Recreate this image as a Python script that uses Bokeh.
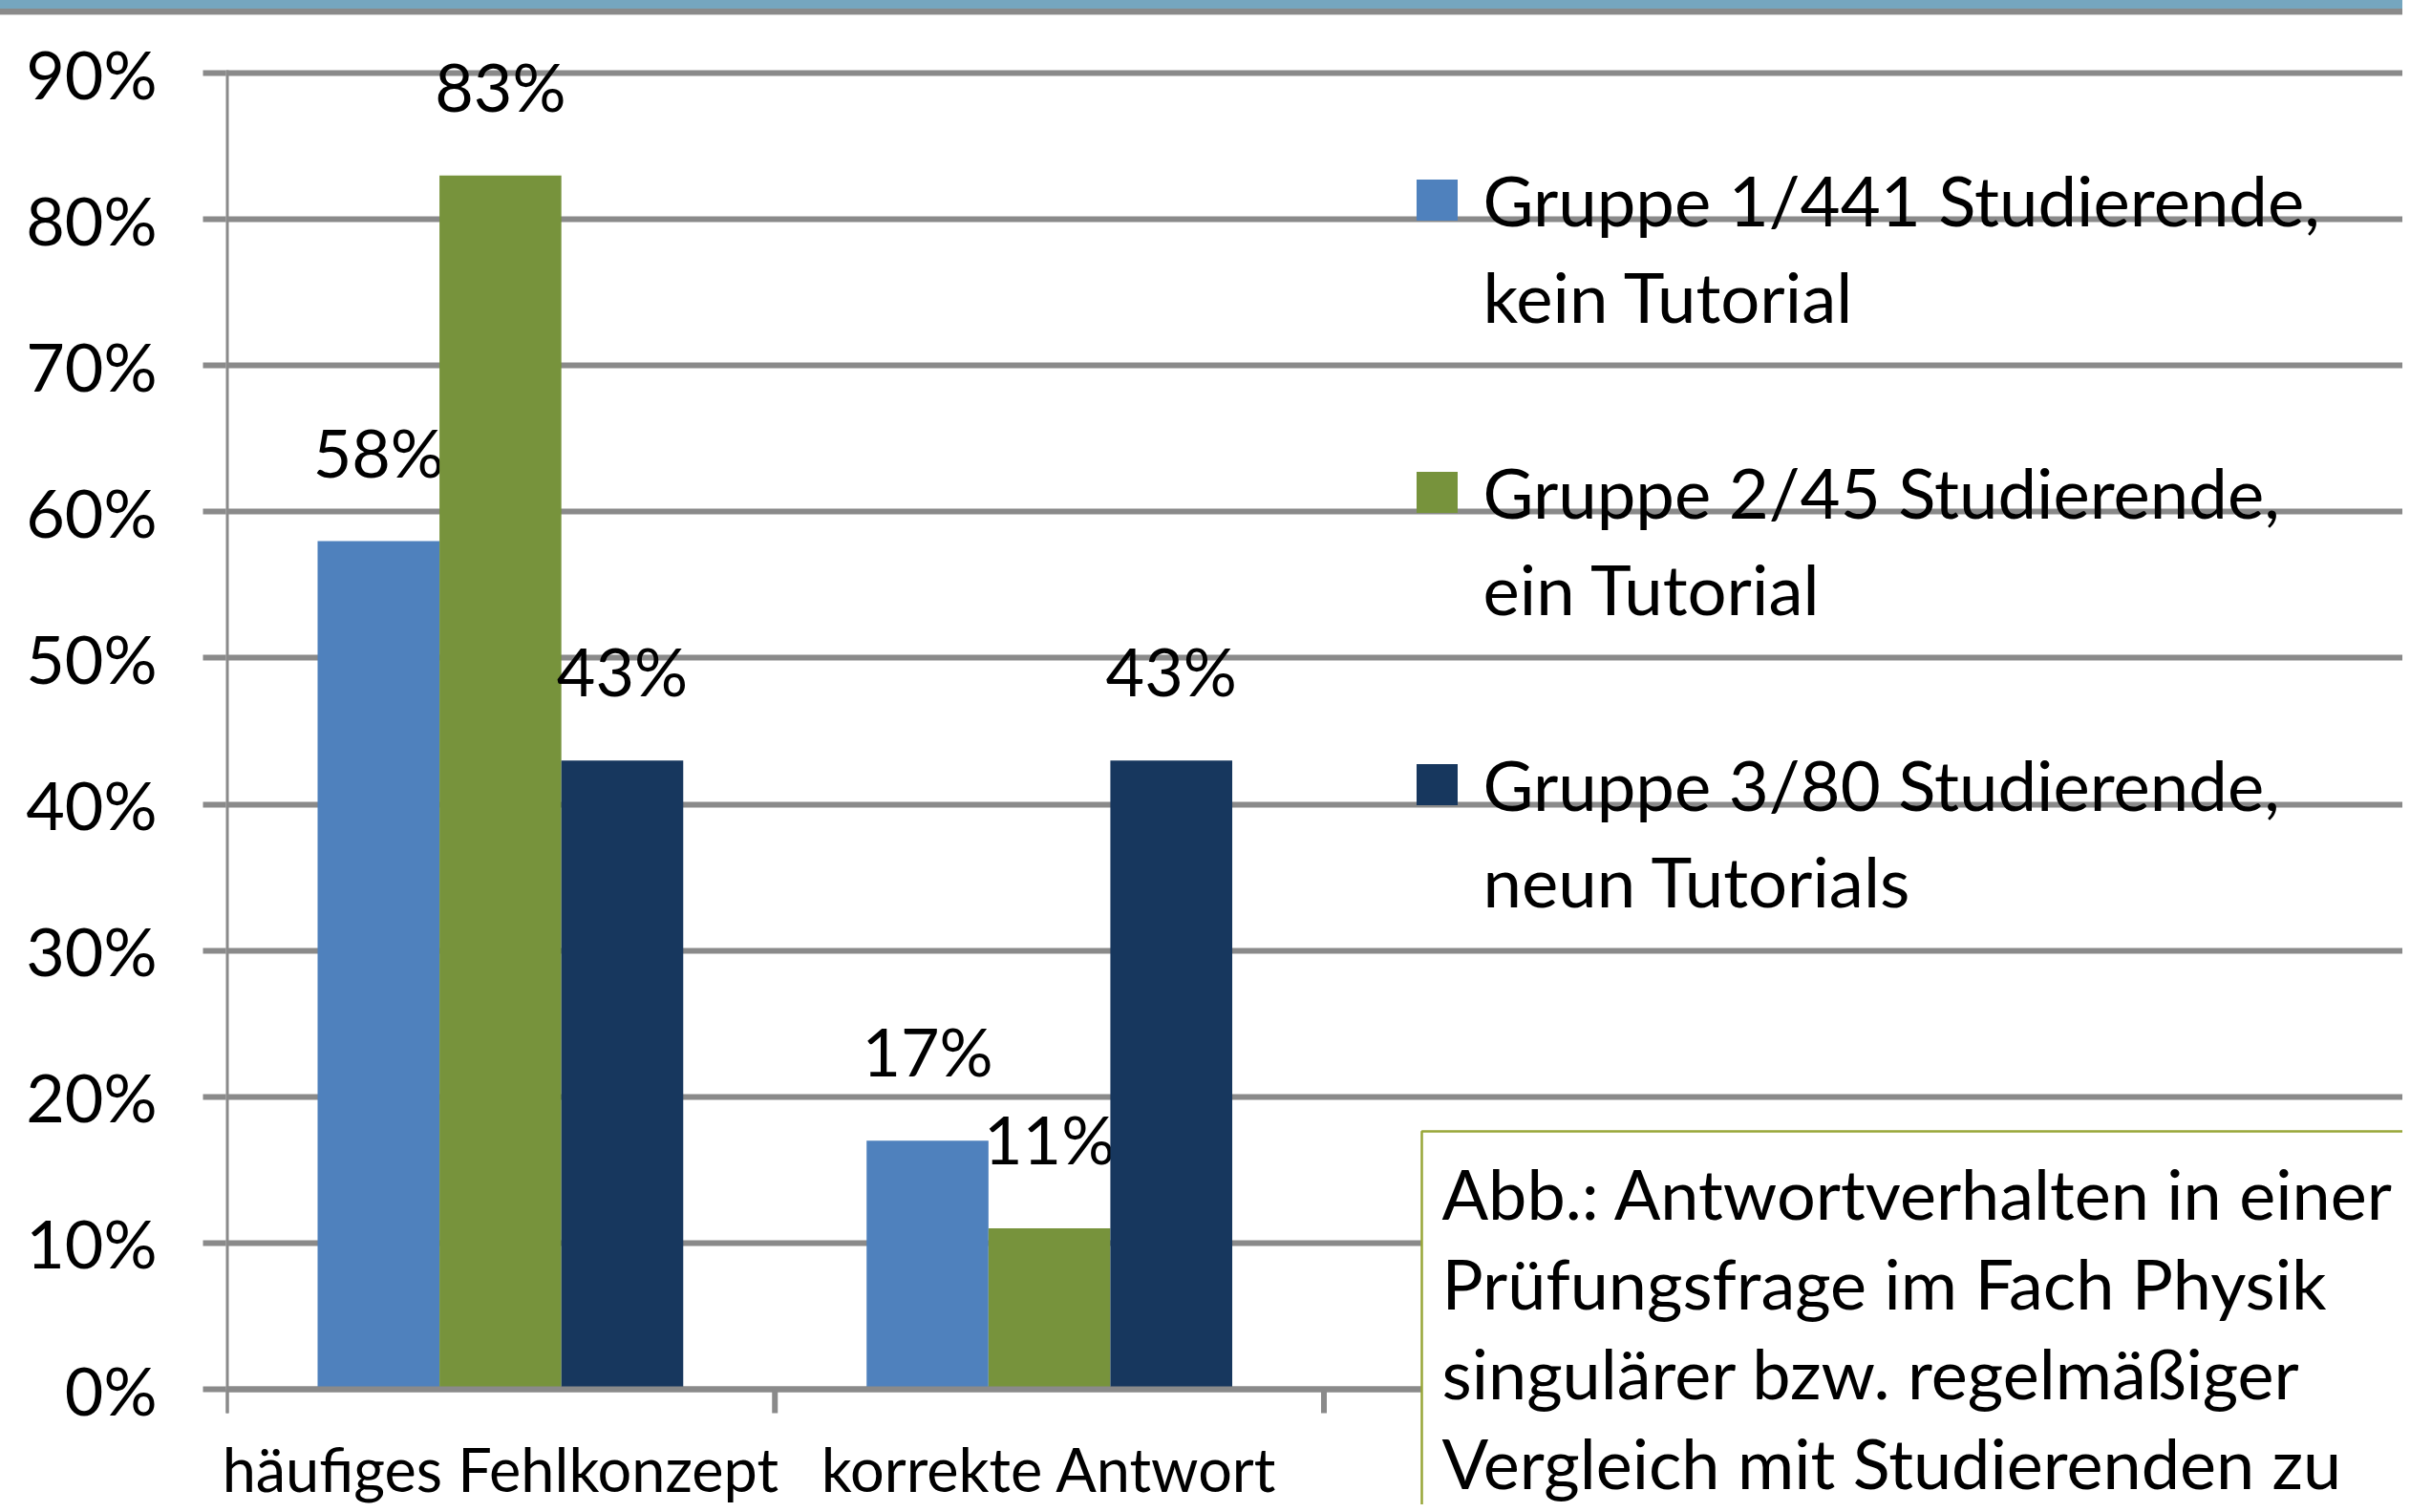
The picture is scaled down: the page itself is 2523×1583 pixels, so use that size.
from bokeh.plotting import figure
from bokeh.layouts import column
from bokeh.models import Range1d, FixedTicker, ColumnDataSource, Div
from bokeh.core.properties import value
from bokeh.embed import file_html
from bokeh.resources import INLINE

# ---------------- data ----------------
categories = ["häufiges Fehlkonzept", "korrekte Antwort"]
gruppe1 = [58, 17]   # Gruppe 1/441 Studierende, kein Tutorial
gruppe2 = [83, 11]   # Gruppe 2/45 Studierende, ein Tutorial
gruppe3 = [43, 43]   # Gruppe 3/80 Studierende, neun Tutorials
series_values = [gruppe1, gruppe2, gruppe3]
legend_line1 = ["Gruppe 1/441 Studierende,", "Gruppe 2/45 Studierende,", "Gruppe 3/80 Studierende,"]
legend_line2 = ["kein Tutorial", "ein Tutorial", "neun Tutorials"]
y_ticks = [0, 10, 20, 30, 40, 50, 60, 70, 80, 90]
y_tick_labels = ["0%", "10%", "20%", "30%", "40%", "50%", "60%", "70%", "80%", "90%"]
caption_lines = [
    "Abb.: Antwortverhalten in einer",
    "Prüfungsfrage im Fach Physik",
    "singulärer bzw. regelmäßiger",
    "Vergleich mit Studierenden zu",
]

# ---------------- styles / layout ----------------
colors = ["#4F81BD", "#77933C", "#17375E"]
GRID = "#8A8A8A"
FONT = "Lato"
W, H = 2515, 1575
BANNER_H = 16
FRAME_LEFT = 236
PX_X = 574.75          # pixels per category
PX_Y = 15.311          # pixels per percent
ZERO_Y = 1454          # pixel row of the 0 % line (page coordinates)
BAR_W = 0.222
OFFSETS = [-0.222, 0.0, 0.222]
BASE_FIX = 0.385       # empirical shift of alphabetic baseline (em)

x_end = (W - FRAME_LEFT) / PX_X
y_end = (ZERO_Y - BANNER_H) / PX_Y
y_start = -(H - ZERO_Y) / PX_Y


def dx(px):
    return (px - FRAME_LEFT) / PX_X


def dy(py):
    return (ZERO_Y - py) / PX_Y


def base(py, size):
    return dy(py - BASE_FIX * size)


# ---------------- slide banner (thin strip on top) ----------------
banner = Div(text="", width=W, height=BANNER_H, margin=(0, 0, 0, 0),
             styles={"background": "linear-gradient(to bottom, #75A6BF 0px, #75A6BF 9px, "
                                   "#8A8A8A 9px, #8A8A8A 15px, #CFCFCF 15px, #CFCFCF 16px)",
                     "width": f"{W}px", "height": f"{BANNER_H}px", "padding": "0px",
                     "margin": "0px"})

# ---------------- chart ----------------
p = figure(width=W, height=H - BANNER_H, output_backend="svg", toolbar_location=None,
           x_range=Range1d(0, x_end), y_range=Range1d(y_start, y_end),
           x_axis_type=None)
p.min_border = 0
p.min_border_left = FRAME_LEFT
p.min_border_right = 0
p.min_border_top = 0
p.min_border_bottom = 0
p.outline_line_color = None
p.background_fill_color = "white"
p.border_fill_color = "white"

# y axis
ax = p.yaxis[0]
ax.ticker = FixedTicker(ticks=y_ticks)
ax.major_label_overrides = {t: l for t, l in zip(y_ticks, y_tick_labels)}
ax.axis_line_color = None
ax.major_tick_out = 24
ax.major_tick_in = 0
ax.major_tick_line_width = 6
ax.major_tick_line_color = GRID
ax.minor_tick_line_color = None
ax.major_label_standoff = 48
ax.major_label_text_font = FONT
ax.major_label_text_font_size = "70px"
ax.major_label_text_color = "black"

p.ygrid.ticker = FixedTicker(ticks=y_ticks)
p.ygrid.grid_line_color = GRID
p.ygrid.grid_line_width = 6
p.xgrid.visible = False

# bars
for k, vals in enumerate(series_values):
    xs = [i + 0.5 + OFFSETS[k] for i in range(len(categories))]
    src = ColumnDataSource(dict(x=xs, top=vals, lbl=[f"{v}%" for v in vals]))
    p.vbar(x="x", top="top", bottom=0, width=BAR_W, source=src,
           fill_color=colors[k], line_color=None)
    p.text(x="x", y="top", text="lbl", source=src, y_offset=-67 - BASE_FIX * 70,
           text_font=value(FONT), text_font_size="70px", text_align="center",
           text_baseline="alphabetic", text_color="black")

# axis lines and category ticks
tick_bottom = dy(1479)
p.segment(x0=[0], x1=[x_end], y0=[0], y1=[0], line_color=GRID, line_width=6)
p.segment(x0=[0], x1=[0], y0=[90.2], y1=[tick_bottom], line_color=GRID, line_width=6)
cat_edges = list(range(len(categories) + 2))
p.segment(x0=cat_edges, x1=cat_edges, y0=[0] * len(cat_edges), y1=[tick_bottom] * len(cat_edges),
          line_color=GRID, line_width=6)

# category labels
CAT_SIZE = 63
p.text(x=[i + 0.5 for i in range(len(categories))], y=[0, 0], text=categories,
       y_offset=1561 - ZERO_Y - BASE_FIX * CAT_SIZE,
       text_font=value(FONT), text_font_size=f"{CAT_SIZE}px", text_align="center",
       text_baseline="alphabetic", text_color="black")

# legend (drawn by hand: two-line labels, marker aligned to first line)
LEG_SIZE = 72.5
leg_y = [209, 515, 821]
p.scatter(x=[dx(1504)] * 3, y=[dy(v) for v in leg_y], marker="square", size=43,
          fill_color=colors, line_color=None)
p.text(x=[dx(1552)] * 3, y=[base(v + 27, LEG_SIZE) for v in leg_y], text=legend_line1,
       text_font=value(FONT), text_font_size=f"{LEG_SIZE}px", text_baseline="alphabetic",
       text_align="left", text_color="black")
p.text(x=[dx(1552)] * 3, y=[base(v + 128, LEG_SIZE) for v in leg_y], text=legend_line2,
       text_font=value(FONT), text_font_size=f"{LEG_SIZE}px", text_baseline="alphabetic",
       text_align="left", text_color="black")

# caption box
CAP_SIZE = 72
p.quad(left=[dx(1488)], right=[x_end + 1], bottom=[y_start - 5], top=[dy(1184)],
       fill_color="white", line_color="#98A638", line_width=2.5)
n = len(caption_lines)
p.text(x=[dx(1509)] * n, y=[base(1276, CAP_SIZE)] * n, text=caption_lines,
       y_offset=[94 * i for i in range(n)],
       text_font=value(FONT), text_font_size=f"{CAP_SIZE}px", text_baseline="alphabetic",
       text_align="left", text_color="black")

open("out.html", "w").write(file_html(column(banner, p, spacing=0), INLINE))
